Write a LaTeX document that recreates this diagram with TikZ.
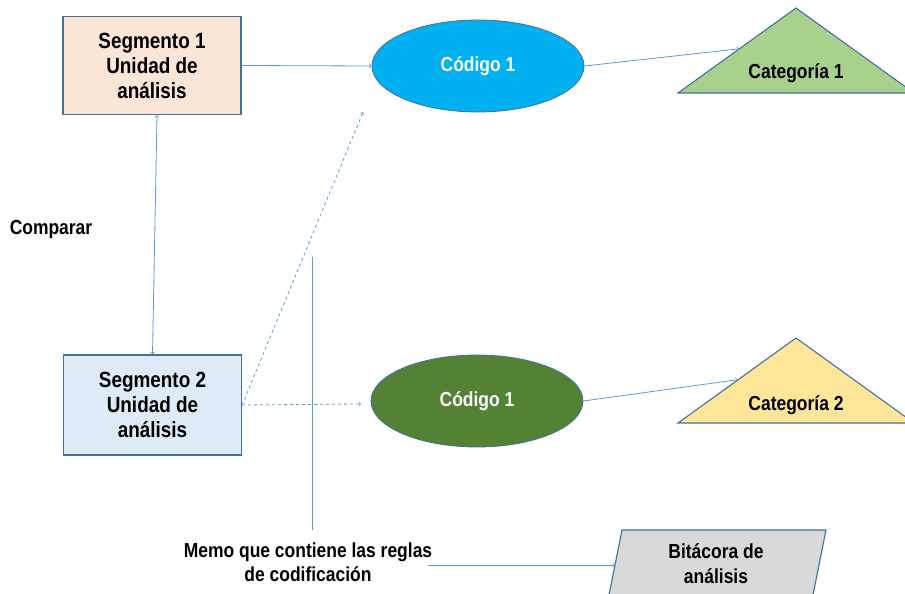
\documentclass[tikz,border=0pt]{standalone}
\usepackage{fontspec}
\setmainfont{Liberation Sans}[FakeStretch=0.86]
\usepackage{tikz}
\usetikzlibrary{arrows,shapes.geometric,calc}
\definecolor{segunoFill}{HTML}{FBE5D6}
\definecolor{segdosFill}{HTML}{DEEBF7}
\definecolor{borde}{HTML}{41719C}
\definecolor{linea}{HTML}{5B9BD5}
\definecolor{codunoFill}{HTML}{00B0F0}
\definecolor{coddosFill}{HTML}{548235}
\definecolor{catunoFill}{HTML}{A9D18E}
\definecolor{catdosFill}{HTML}{FFE699}
\definecolor{bitaFill}{HTML}{D9D9D9}
\newcommand{\segfont}{\fontsize{22}{25}\selectfont\bfseries}
\newcommand{\txtfont}{\fontsize{20.3}{24}\selectfont\bfseries}

\begin{document}
\begin{tikzpicture}[x=1pt,y=-1pt,>=to,
seg/.style={draw=borde,line width=1.3pt,minimum width=178pt,minimum height=98pt,align=center,font=\segfont},
cod/.style={ellipse,draw=borde,line width=0.8pt,minimum width=212pt,minimum height=92pt,text=white,font=\txtfont},
shp/.style={draw=borde,line width=1.1pt},
txt/.style={font=\txtfont,align=center,inner sep=0pt},
conn/.style={draw=linea,line width=0.8pt}]
\useasboundingbox (0,0) rectangle (905,594);

% segments and codes
\node[seg,fill=segunoFill](seg1) at (152,65.5) {Segmento 1\\Unidad de\\análisis};
\node[seg,fill=segdosFill,minimum height=100pt](seg2) at (152.5,405) {Segmento 2\\Unidad de\\análisis};
\node[cod,fill=codunoFill](cod1) at (478,66) {Código 1};
\node[cod,fill=coddosFill](cod2) at (477,401) {Código 1};

% categories
\coordinate(cat1l) at (678,93);
\coordinate(cat1t) at (796,8);
\coordinate(cat1r) at (914,93);
\coordinate(cat2l) at (678,423);
\coordinate(cat2t) at (796,338);
\coordinate(cat2r) at (914,423);
\draw[shp,fill=catunoFill] (cat1l) -- (cat1t) -- (cat1r) -- cycle;
\draw[shp,fill=catdosFill] (cat2l) -- (cat2t) -- (cat2r) -- cycle;
\node[txt](cat1) at (796,73) {Categoría 1};
\node[txt](cat2) at (796,405) {Categoría 2};
\coordinate(cat1in) at ($(cat1l)!0.52!(cat1t)$);
\coordinate(cat2in) at ($(cat2l)!0.51!(cat2t)$);

% log
\coordinate(bita1) at (622,530);
\coordinate(bita2) at (826,530);
\coordinate(bita3) at (812,600);
\coordinate(bita4) at (608,600);
\draw[shp,fill=bitaFill] (bita1) -- (bita2) -- (bita3) -- (bita4) -- cycle;
\node[txt](bita) at (716,564) {Bitácora de\\[1pt]análisis};
\coordinate(bitain) at ($(bita4)!0.5!(bita1)$);

\node[txt](comp) at (51,230) {Comparar};
\node[txt](memo) at (308,562) {Memo que contiene las reglas\\de codificación};
\coordinate(vtop) at (312,257);
\coordinate(vbot) at (312,530);
\coordinate(d1) at (363,112);
\coordinate(d2) at (361,404);

% connectors
\draw[conn,<->] ([xshift=5pt]seg1.south) -- (seg2.north);
\draw[conn,->] (seg1.east) -- (cod1.west);
\draw[conn,->] (cod1.east) -- (cat1in);
\draw[conn,->] (cod2.east) -- (cat2in);
\draw[conn,->,dashed] (seg2.east) -- (d1);
\draw[conn,->,dashed] (seg2.east) -- (d2);
\draw[conn] (vbot) -- (vtop);
\draw[conn,->] ([xshift=-4pt,yshift=-3pt]memo.east) -- (bitain);
\end{tikzpicture}
\end{document}
